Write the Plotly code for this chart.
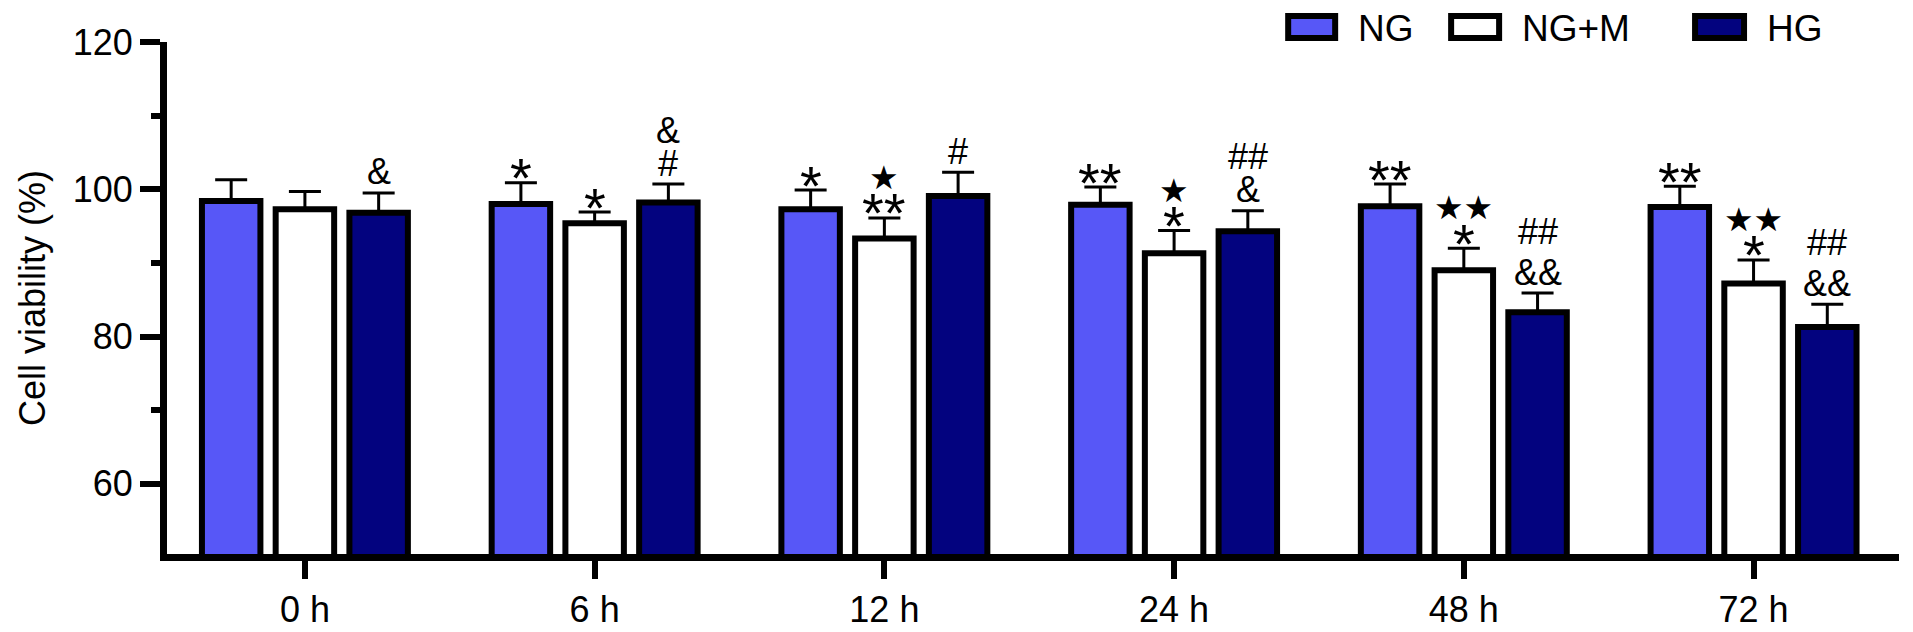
import plotly.graph_objects as go

# data
timepoints = ["0 h", "6 h", "12 h", "24 h", "48 h", "72 h"]
groups = ["NG", "NG+M", "HG"]

ng_mean = [98.4, 98.0, 97.3, 97.9, 97.7, 97.6]
ng_sd = [2.9, 2.9, 2.6, 2.4, 3.0, 2.8]
ngm_mean = [97.3, 95.4, 93.3, 91.3, 89.0, 87.2]
ngm_sd = [2.4, 1.5, 2.8, 3.1, 3.0, 3.2]
hg_mean = [96.8, 98.2, 99.1, 94.3, 83.3, 81.3]
hg_sd = [2.7, 2.5, 3.2, 2.8, 2.6, 3.1]

# significance marks, listed bottom to top
ng_marks = [[], ["*"], ["*"], ["**"], ["**"], ["**"]]
ngm_marks = [[], ["*"], ["**", "★"], ["*", "★"], ["*", "★★"], ["*", "★★"]]
hg_marks = [["&"], ["#", "&"], ["#"], ["&", "##"], ["&&", "##"], ["&&", "##"]]

colors = ["#5757F7", "#FFFFFF", "#03037F"]

# page body has an 8px margin, so the figure is offset by 8px
OFF = 8
W, H = 1913 - OFF, 632 - OFF
# plot area, page pixels converted to figure pixels
L, R, T, B = 166.5 - OFF, 1899 - OFF, 42 - OFF, 554.5 - OFF
FONT = "Arial, Liberation Sans, Helvetica, sans-serif"

slot = 0.2545  # one bar slot in category units
x_idx = list(range(len(timepoints)))

fig = go.Figure()
series = [(ng_mean, ng_sd), (ngm_mean, ngm_sd), (hg_mean, hg_sd)]
for name, (mean, sd), col in zip(groups, series, colors):
    fig.add_trace(go.Bar(
        x=x_idx, y=mean, name=name,
        marker=dict(color=col, line=dict(color="black", width=6)),
        error_y=dict(type="data", array=sd, arrayminus=[0] * len(sd),
                     symmetric=False, thickness=3, width=16, color="black"),
        showlegend=False,
    ))


# font and glyph-centre correction for each kind of mark
def mark_style(s):
    if "★" in s:
        return dict(family="DejaVu Sans", size=33), 0.5
    if "*" in s:
        return dict(family=FONT, size=56), 10
    return dict(family=FONT, size=36), -1.5


def is_star(s):
    return ("*" in s) or ("★" in s)


all_marks = [ng_marks, ngm_marks, hg_marks]
for g, (marks, (mean, sd)) in enumerate(zip(all_marks, series)):
    for i, stack in enumerate(marks):
        top = mean[i] + sd[i]
        off = 0
        prev = None
        for s in stack:
            if prev is None:
                off = 15 if is_star(s) else 19.5
            elif is_star(s):
                off += 26
            else:
                off += 33 if len(prev) == 1 else 41
            font, glyph = mark_style(s)
            fig.add_annotation(
                x=i + (g - 1) * slot, y=top, xref="x", yref="y",
                text=s, showarrow=False, yanchor="middle", xanchor="center",
                yshift=off - glyph, borderpad=0,
                font=dict(color="black", **font),
            )
            prev = s


# legend drawn as boxes + labels (positions given in page pixels)
def px_x(p):
    return (p - OFF - L) / (R - L)


def px_y(p):
    return (B - (p - OFF)) / (B - T)


legend_boxes = [(1288, 1335), (1451, 1499), (1695, 1744)]
legend_text_x = [1357, 1521, 1766]
for name, col, (x0, x1), tx in zip(groups, colors, legend_boxes, legend_text_x):
    fig.add_shape(type="rect", xref="paper", yref="paper",
                  x0=px_x(x0), x1=px_x(x1), y0=px_y(38), y1=px_y(16),
                  fillcolor=col, line=dict(color="black", width=6))
    fig.add_annotation(xref="paper", yref="paper", x=px_x(tx), y=px_y(28),
                       text=name, showarrow=False, xanchor="left",
                       yanchor="middle", borderpad=0,
                       font=dict(family=FONT, size=37, color="black"))

fig.update_layout(
    width=W, height=H,
    margin=dict(l=L, r=W - R, t=T, b=H - B, pad=0, autoexpand=False),
    plot_bgcolor="white", paper_bgcolor="white",
    barmode="group", bargap=1 - 3 * slot, bargroupgap=0.207,
    font=dict(family=FONT, color="black"),
)
fig.update_xaxes(
    range=[-0.476, 5.502], tickvals=x_idx, ticktext=timepoints,
    showline=True, linewidth=7, linecolor="black", automargin=False,
    ticks="outside", ticklen=18, tickwidth=6, tickcolor="black",
    tickfont=dict(size=36), showgrid=False, zeroline=False,
)
fig.update_yaxes(
    range=[50.47, 120], tick0=0, dtick=20,
    showline=True, linewidth=7, linecolor="black", automargin=False,
    ticks="outside", ticklen=20, tickwidth=6, tickcolor="black",
    minor=dict(dtick=10, tick0=0, ticks="outside", ticklen=9,
               tickwidth=6, tickcolor="black", showgrid=False),
    tickfont=dict(size=36), showgrid=False, zeroline=False,
    title=dict(text="Cell viability (%)", font=dict(size=36), standoff=19),
)

fig.write_html("out.html")
